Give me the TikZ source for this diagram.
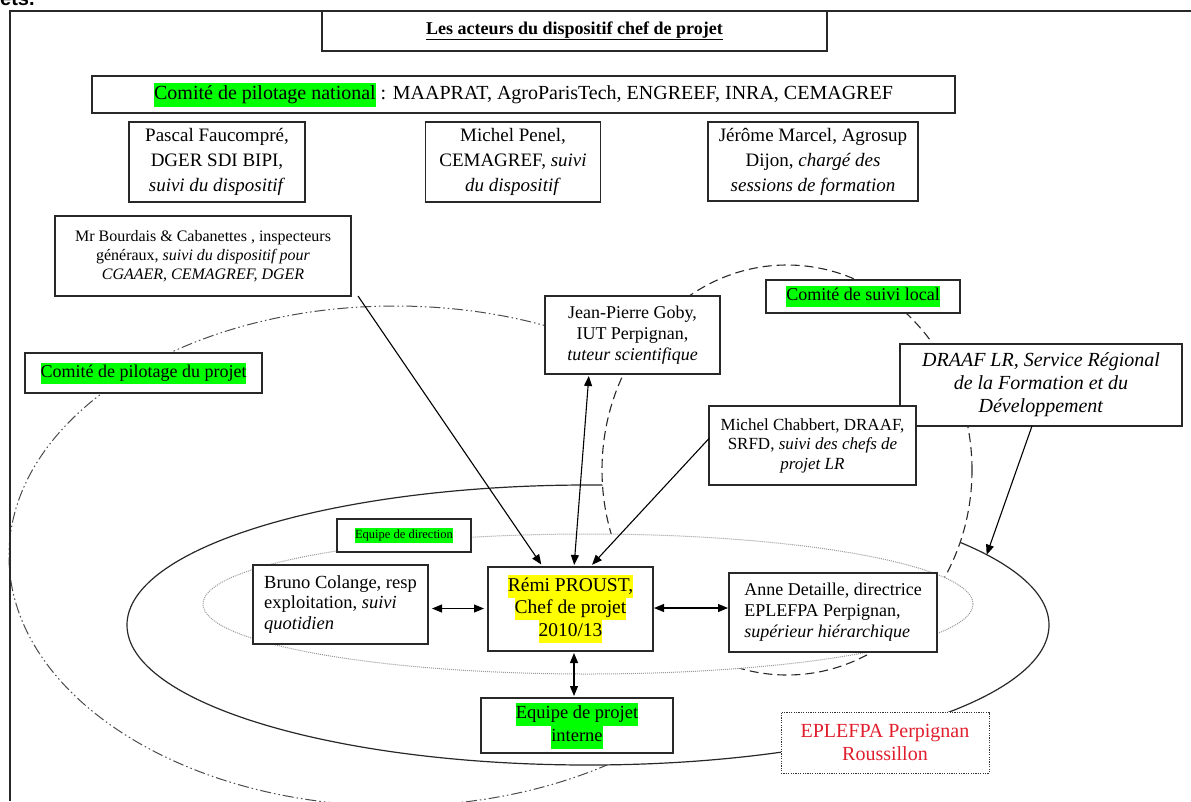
\documentclass[tikz,border=0pt]{standalone}
\usepackage{fontspec}
\setmainfont{Liberation Serif}
\newfontfamily\arialfont{Liberation Sans}
\usetikzlibrary{arrows.meta,shapes.geometric}
\definecolor{hlgreen}{RGB}{0,255,0}
\definecolor{hlyellow}{RGB}{255,255,0}
\definecolor{eplred}{RGB}{225,30,45}
\definecolor{linegray}{RGB}{40,40,40}
\newcommand{\hlg}[1]{{\setlength{\fboxsep}{0pt}\colorbox{hlgreen}{\strut #1}}}
\newcommand{\hly}[1]{{\setlength{\fboxsep}{0pt}\colorbox{hlyellow}{\strut #1}}}
\newcommand{\fsz}[2]{\fontsize{#1}{#2}\selectfont}
\begin{document}
\begin{tikzpicture}[x=1pt,y=-1pt,
  box/.style={draw=linegray, line width=1.2pt, fill=white, inner sep=0pt, outer sep=0pt, align=center},
  ellbase/.style={ellipse, inner sep=0pt, outer sep=0pt},
  dashdotell/.style={ellbase, draw=black!70, line width=1pt, dash pattern=on 11pt off 3pt on 1.5pt off 3pt on 1.5pt off 3pt},
  solidell/.style={ellbase, draw=linegray, line width=1.2pt, fill=white},
  dashedell/.style={ellbase, draw=linegray, line width=1.1pt, fill=white, dash pattern=on 9pt off 5pt},
  dottedell/.style={ellbase, draw=black!40, line width=1pt, fill=white, dash pattern=on 1pt off 1pt},
  onearrow/.style={draw=black, line width=1.1pt, -{Triangle[length=10pt,width=8pt]}},
  twoarrow/.style={draw=black, line width=1.1pt, {Triangle[length=10pt,width=8pt]}-{Triangle[length=10pt,width=8pt]}}
]
\useasboundingbox (0,0) rectangle (1191,801);
\fill[white] (0,0) rectangle (1191,801);
\begin{scope}
\clip (0,0) rectangle (1191,801);
\node[anchor=base west, inner sep=0pt, font=\arialfont\bfseries\fsz{20}{24}] (ets) at (0,5) {ets.};

% ellipses
\node[dashdotell, minimum width=772pt, minimum height=500pt] (pilotell) at (395,556) {};
\node[solidell, minimum width=922pt, minimum height=280pt] (eplell) at (588,625) {};
\node[dashedell, minimum width=370pt, minimum height=410pt] (localell) at (787,470) {};
\node[dottedell, minimum width=770pt, minimum height=140pt] (direll) at (588,604) {};
\end{scope}

% boxes
\node[box, minimum width=505pt, minimum height=40pt, font=\fsz{18}{22}] (title) at (574.5,31)
  {\textbf{\underline{Les acteurs du dispositif chef de projet}}};
\node[box, minimum width=863pt, minimum height=37pt, font=\fsz{20}{24}] (natl) at (523.5,94.5)
  {\hlg{Comité de pilotage national} : MAAPRAT, AgroParisTech, ENGREEF, INRA, CEMAGREF};
\node[box, minimum width=176pt, minimum height=80pt, font=\fsz{19}{25}] (pascal) at (217,162)
  {Pascal Faucompré,\\ DGER SDI BIPI,\\ \textit{suivi du dispositif}};
\node[box, minimum width=175pt, minimum height=80pt, font=\fsz{19}{25}] (penel) at (513,162)
  {Michel Penel,\\ CEMAGREF, \textit{suivi}\\ \textit{du dispositif}};
\node[box, minimum width=210pt, minimum height=79pt, font=\fsz{19}{25}] (jerome) at (813,161.5)
  {Jérôme Marcel, Agrosup\\ Dijon, \textit{chargé des}\\ \textit{sessions de formation}};
\node[box, minimum width=296pt, minimum height=80pt, font=\fsz{16}{19}] (bourdais) at (203,256)
  {Mr Bourdais \& Cabanettes , inspecteurs\\ généraux, \textit{suivi du dispositif pour}\\ \textit{CGAAER, CEMAGREF, DGER}};
\node[box, minimum width=237pt, minimum height=40pt, font=\fsz{18}{21}] (pilot) at (143.5,373)
  {\hlg{Comité de pilotage du projet}};
\node[box, minimum width=175pt, minimum height=78pt, font=\fsz{18}{21}] (jp) at (632.5,335)
  {Jean-Pierre Goby,\\ IUT Perpignan,\\ \textit{tuteur scientifique}};
\node[box, minimum width=194pt, minimum height=33pt, font=\fsz{18}{21}] (suivi) at (863,296.5)
  {\hlg{Comité de suivi local}};
\node[box, minimum width=282pt, minimum height=82pt, font=\fsz{20}{23}] (draaf) at (1041,385)
  {\textit{DRAAF LR, Service Régional}\\ \textit{de la Formation et du}\\ \textit{Développement}};
\node[box, minimum width=207pt, minimum height=79pt, font=\fsz{17}{19.5}] (chabbert) at (812.5,445.5)
  {Michel Chabbert, DRAAF,\\ SRFD, \textit{suivi des chefs de}\\ \textit{projet LR}};
\node[box, minimum width=134pt, minimum height=33pt, font=\fsz{12.5}{15}] (direction) at (404,535.5)
  {\hlg{Equipe de direction}};
\node[box, align=left, minimum width=175pt, minimum height=79pt, font=\fsz{18.5}{20.5}] (bruno) at (340.5,604.5)
  {Bruno Colange, resp\\ exploitation, \textit{suivi}\\ \textit{quotidien}};
\node[box, minimum width=165pt, minimum height=84pt, font=\fsz{19.5}{22.5}] (remi) at (570.5,609)
  {\hly{Rémi PROUST,}\\ \hly{Chef de projet}\\ \hly{2010/13}};
\node[box, align=left, minimum width=208pt, minimum height=79pt, font=\fsz{18}{21}] (anne) at (833,612.5)
  {Anne Detaille, directrice\\ EPLEFPA Perpignan,\\ \textit{supérieur hiérarchique}};
\node[box, minimum width=192pt, minimum height=55pt, font=\fsz{18.5}{23}] (interne) at (577,725.5)
  {\hlg{Equipe de projet}\\ \hlg{interne}};
\node[box, draw=black!80, line width=1pt, dash pattern=on 1.2pt off 1.2pt, text=eplred, minimum width=208pt, minimum height=61pt, font=\fsz{20}{23}] (eplefpa) at (885,742.5)
  {EPLEFPA Perpignan\\ Roussillon};

% connectors
\draw[twoarrow, shorten <=4pt, shorten >=4pt] ([yshift=-4pt]bruno.east) -- ([yshift=-4pt]bruno.east -| remi.west);
\draw[twoarrow, shorten <=1pt, shorten >=1pt] ([yshift=1pt]remi.east) -- ([yshift=1pt]remi.east -| anne.west);
\draw[twoarrow, shorten <=2pt, shorten >=2pt] ([xshift=3.5pt]remi.south) -- ([xshift=3.5pt]remi.south |- interne.north);
\draw[twoarrow, shorten <=2pt, shorten >=2pt] ([xshift=-43.5pt]jp.south) -- ([xshift=3.5pt]remi.north);
\draw[onearrow, shorten >=3pt] ([xshift=7pt]bourdais.south east) -- ([xshift=-27.5pt]remi.north);
\draw[onearrow, shorten >=3pt] ([yshift=7pt]chabbert.west) -- ([xshift=19.5pt]remi.north);
\draw[onearrow] ([xshift=-9pt]draaf.south) -- (eplell.10.7);

% frame
\draw[line width=1.5pt, draw=linegray] (1191,11) -- (10,11) -- (10,801);
\end{tikzpicture}
\end{document}
